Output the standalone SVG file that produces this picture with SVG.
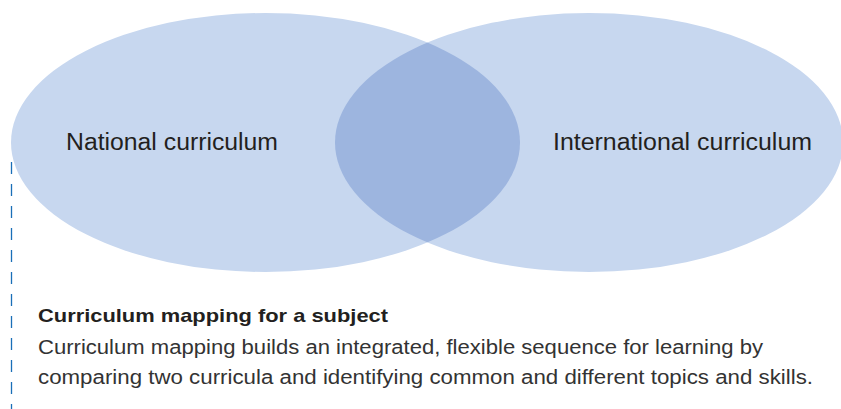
<svg xmlns="http://www.w3.org/2000/svg" width="841" height="409" viewBox="0 0 841 409">
  <defs>
    <style>
      .set { fill: #C7D7EF; }
      .overlap { fill: #9DB5DF; }
      .label { font-family: "Liberation Sans", Arial, sans-serif; font-size: 23.5px; fill: #231f20; }
      .title { font-family: "Liberation Sans", Arial, sans-serif; font-size: 19px; font-weight: bold; fill: #231f20; }
      .body { font-family: "Liberation Sans", Arial, sans-serif; font-size: 19.5px; fill: #333333; }
      .rule { stroke: #1A6FB8; stroke-width: 1.3; stroke-dasharray: 12 10; fill: none; }
    </style>
    <clipPath id="clipRight">
      <ellipse cx="589" cy="142.5" rx="254" ry="129.5"/>
    </clipPath>
  </defs>
  <rect width="841" height="409" fill="#ffffff"/>
  <g id="national">
    <ellipse class="set" cx="265.5" cy="142.5" rx="254.5" ry="129.5"/>
  </g>
  <g id="international">
    <ellipse class="set" cx="589" cy="142.5" rx="254" ry="129.5"/>
  </g>
  <g id="overlap">
    <ellipse class="overlap" cx="265.5" cy="142.5" rx="254.5" ry="129.5" clip-path="url(#clipRight)"/>
  </g>
  <g id="labels">
    <text class="label" x="66" y="150" textLength="212" lengthAdjust="spacingAndGlyphs">National curriculum</text>
    <text class="label" x="553" y="150" textLength="259" lengthAdjust="spacingAndGlyphs">International curriculum</text>
  </g>
  <g id="connectors">
    <line class="rule" x1="11.5" y1="162" x2="11.5" y2="409"/>
  </g>
  <g id="caption">
    <text class="title" x="38" y="322" textLength="350" lengthAdjust="spacingAndGlyphs">Curriculum mapping for a subject</text>
    <text class="body" x="38" y="354" textLength="725" lengthAdjust="spacingAndGlyphs">Curriculum mapping builds an integrated, flexible sequence for learning by</text>
    <text class="body" x="38" y="384" textLength="775" lengthAdjust="spacingAndGlyphs">comparing two curricula and identifying common and different topics and skills.</text>
  </g>
</svg>
